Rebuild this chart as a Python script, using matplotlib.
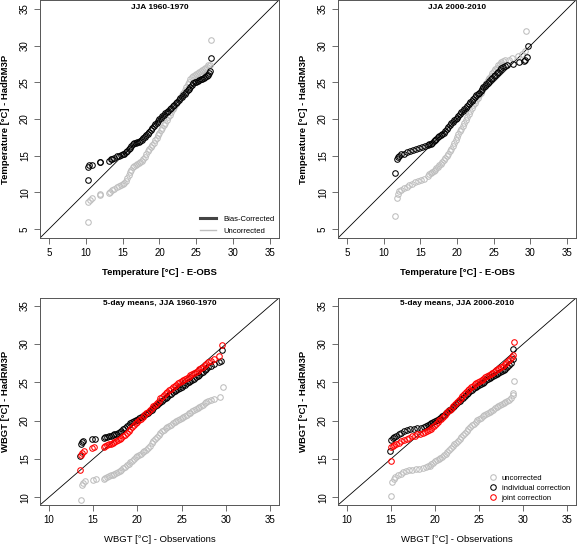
import matplotlib.pyplot as plt
from matplotlib.lines import Line2D

plt.rcParams['font.family'] = ['Liberation Sans', 'DejaVu Sans']

# top left: JJA 1960-1970, daily temperature
tl_bias = [(10.3, 11.7), (10.3, 13.5), (10.5, 13.7), (10.8, 13.8), (12.0, 14.1), (12.0, 14.2),
           (13.1, 14.3), (13.4, 14.5), (13.6, 14.6), (13.9, 14.7), (14.2, 14.9), (14.5, 15.0),
           (14.8, 15.1), (15.0, 15.2), (15.2, 15.3), (15.4, 15.5), (15.6, 15.7), (15.8, 15.9),
           (16.0, 16.1), (16.2, 16.3), (16.4, 16.6), (16.6, 16.7), (16.8, 16.8), (17.0, 16.85),
           (17.2, 16.9), (17.4, 17.0), (17.6, 17.2), (17.8, 17.4), (18.0, 17.6), (18.2, 17.8),
           (18.4, 18.0), (18.6, 18.25), (18.8, 18.5), (19.0, 18.8), (19.2, 19.05), (19.4, 19.3),
           (19.6, 19.5), (19.8, 19.75), (20.0, 19.95), (20.2, 20.15), (20.4, 20.35), (20.6, 20.55),
           (20.8, 20.75), (21.0, 20.95), (21.2, 21.15), (21.4, 21.35), (21.6, 21.55), (21.8, 21.75),
           (22.0, 21.95), (22.2, 22.15), (22.4, 22.35), (22.6, 22.6), (22.8, 22.8), (23.0, 23.0),
           (23.2, 23.25), (23.4, 23.45), (23.6, 23.7), (23.8, 23.9), (24.0, 24.1), (24.2, 24.35),
           (24.4, 24.6), (24.6, 24.85), (24.8, 25.0), (25.0, 25.1), (25.2, 25.2), (25.4, 25.3),
           (25.6, 25.4), (25.8, 25.5), (26.0, 25.6), (26.2, 25.7), (26.4, 25.85), (26.6, 26.0),
           (26.7, 26.2), (26.9, 26.6), (27.0, 28.3)]
tl_raw = [(10.3, 6.0), (10.3, 8.7), (10.6, 9.0), (10.9, 9.3), (12.0, 9.6), (12.0, 9.8),
          (13.1, 9.9), (13.3, 10.1), (13.6, 10.3), (13.9, 10.5), (14.2, 10.7), (14.5, 10.85),
          (14.8, 11.0), (15.0, 11.1), (15.2, 11.3), (15.4, 11.6), (15.6, 12.0), (15.8, 12.4),
          (16.0, 12.8), (16.2, 13.1), (16.4, 13.4), (16.6, 13.6), (16.8, 13.8), (17.0, 13.9),
          (17.2, 14.0), (17.4, 14.1), (17.6, 14.3), (17.8, 14.5), (18.0, 14.8), (18.2, 15.2),
          (18.4, 15.6), (18.6, 15.9), (18.8, 16.2), (19.0, 16.5), (19.2, 16.8), (19.4, 17.1),
          (19.6, 17.4), (19.8, 17.8), (20.0, 18.1), (20.2, 18.5), (20.4, 18.8), (20.6, 19.2),
          (20.8, 19.5), (21.0, 19.9), (21.2, 20.3), (21.4, 20.6), (21.6, 21.0), (21.8, 21.3),
          (22.0, 21.6), (22.2, 22.0), (22.4, 22.3), (22.6, 22.6), (22.8, 22.9), (23.0, 23.2),
          (23.2, 23.5), (23.4, 23.9), (23.6, 24.3), (23.8, 24.7), (24.0, 25.1), (24.2, 25.4),
          (24.4, 25.7), (24.6, 25.9), (24.8, 26.0), (25.0, 26.1), (25.2, 26.2), (25.4, 26.4),
          (25.6, 26.6), (25.8, 26.7), (26.0, 26.8), (26.2, 26.9), (26.4, 27.1), (26.6, 27.3),
          (26.8, 27.4), (27.0, 30.7)]

# top right: JJA 2000-2010, daily temperature
tr_bias = [(11.5, 12.7), (11.8, 14.5), (11.9, 14.8), (12.1, 15.0), (12.4, 15.2), (12.8, 15.3),
           (13.2, 15.5), (13.6, 15.7), (14.0, 15.8), (14.4, 15.95), (14.8, 16.05), (15.2, 16.15),
           (15.6, 16.3), (16.0, 16.45), (16.2, 16.55), (16.4, 16.65), (16.6, 16.8), (16.8, 16.95),
           (17.0, 17.1), (17.2, 17.3), (17.4, 17.5), (17.6, 17.65), (17.8, 17.8), (18.0, 17.95),
           (18.2, 18.15), (18.4, 18.4), (18.6, 18.65), (18.8, 18.9), (19.0, 19.15), (19.2, 19.4),
           (19.4, 19.6), (19.6, 19.8), (19.8, 20.0), (20.0, 20.2), (20.2, 20.45), (20.4, 20.7),
           (20.6, 20.9), (20.8, 21.1), (21.0, 21.35), (21.2, 21.55), (21.4, 21.8), (21.6, 22.0),
           (21.8, 22.25), (22.0, 22.5), (22.2, 22.7), (22.4, 22.95), (22.6, 23.2), (22.8, 23.4),
           (23.0, 23.6), (23.2, 23.85), (23.4, 24.05), (23.6, 24.3), (23.8, 24.5), (24.0, 24.75),
           (24.2, 24.95), (24.4, 25.15), (24.6, 25.4), (24.8, 25.6), (25.0, 25.8), (25.2, 26.0),
           (25.4, 26.25), (25.6, 26.45), (25.8, 26.7), (26.0, 26.9), (26.2, 27.1), (26.5, 27.2),
           (26.8, 27.3), (27.6, 27.45), (28.5, 27.7), (29.1, 27.9), (29.3, 28.1), (29.5, 28.4),
           (29.6, 30.0)]
tr_raw = [(11.6, 6.8), (11.8, 9.3), (11.9, 9.8), (12.1, 10.2), (12.4, 10.4), (12.8, 10.6),
          (13.2, 10.8), (13.5, 11.0), (13.9, 11.2), (14.3, 11.4), (14.7, 11.55), (15.1, 11.7),
          (15.5, 11.8), (16.0, 12.3), (16.2, 12.45), (16.4, 12.6), (16.6, 12.8), (16.8, 12.95),
          (17.0, 13.1), (17.2, 13.3), (17.4, 13.5), (17.6, 13.7), (17.8, 13.9), (18.0, 14.15),
          (18.2, 14.4), (18.4, 14.7), (18.6, 15.0), (18.8, 15.3), (19.0, 15.6), (19.2, 15.95),
          (19.4, 16.3), (19.6, 16.7), (19.8, 17.1), (20.0, 17.5), (20.2, 17.9), (20.4, 18.3),
          (20.6, 18.7), (20.8, 19.1), (21.0, 19.5), (21.2, 19.9), (21.4, 20.3), (21.6, 20.7),
          (21.8, 21.1), (22.0, 21.5), (22.2, 21.85), (22.4, 22.2), (22.6, 22.55), (22.8, 22.9),
          (23.0, 23.2), (23.2, 23.55), (23.4, 23.9), (23.6, 24.3), (23.8, 24.6), (24.0, 24.95),
          (24.2, 25.3), (24.4, 25.6), (24.6, 25.9), (24.8, 26.2), (25.0, 26.5), (25.2, 26.75),
          (25.4, 27.0), (25.6, 27.3), (25.8, 27.55), (26.0, 27.75), (26.2, 27.9), (26.6, 28.0),
          (27.1, 28.1), (27.5, 28.3), (28.3, 28.55), (28.9, 28.8), (29.3, 29.2), (29.45, 31.95)]

# bottom left: 5-day mean WBGT, JJA 1960-1970
bl_raw = [(13.6, 9.7), (13.7, 11.6), (13.9, 11.9), (14.1, 12.1), (15.0, 12.25), (15.3, 12.35),
          (16.2, 12.45), (16.4, 12.55), (16.6, 12.65), (16.8, 12.75), (17.0, 12.85), (17.2, 12.95),
          (17.4, 13.05), (17.6, 13.15), (17.8, 13.3), (18.0, 13.45), (18.2, 13.6), (18.4, 13.8),
          (18.6, 14.0), (18.8, 14.2), (19.0, 14.4), (19.2, 14.6), (19.4, 14.8), (19.6, 15.0),
          (19.8, 15.2), (20.0, 15.35), (20.2, 15.5), (20.4, 15.7), (20.6, 15.85), (20.8, 16.0),
          (21.0, 16.2), (21.2, 16.45), (21.4, 16.75), (21.6, 17.05), (21.8, 17.35), (22.0, 17.65),
          (22.2, 17.9), (22.4, 18.15), (22.6, 18.4), (22.8, 18.6), (23.0, 18.8), (23.2, 19.0),
          (23.4, 19.2), (23.6, 19.35), (23.8, 19.5), (24.0, 19.65), (24.2, 19.8), (24.4, 19.95),
          (24.6, 20.1), (24.8, 20.25), (25.0, 20.4), (25.2, 20.5), (25.4, 20.65), (25.6, 20.8),
          (25.8, 20.95), (26.0, 21.05), (26.2, 21.2), (26.4, 21.35), (26.6, 21.5), (26.8, 21.65),
          (27.0, 21.8), (27.2, 21.95), (27.4, 22.1), (27.6, 22.25), (27.8, 22.4), (28.0, 22.55),
          (28.3, 22.7), (28.7, 22.85), (29.3, 23.1), (29.7, 24.4)]
bl_indiv = [(13.5, 15.4), (13.6, 16.9), (13.8, 17.2), (13.9, 17.4), (14.9, 17.6), (15.2, 17.65),
            (16.2, 17.75), (16.4, 17.85), (16.6, 17.9), (16.8, 17.95), (17.0, 18.0), (17.2, 18.1),
            (17.4, 18.2), (17.6, 18.3), (17.8, 18.4), (18.0, 18.55), (18.2, 18.7), (18.4, 18.9),
            (18.6, 19.1), (18.8, 19.3), (19.0, 19.5), (19.2, 19.65), (19.4, 19.8), (19.6, 19.95),
            (19.8, 20.05), (20.0, 20.15), (20.2, 20.3), (20.4, 20.45), (20.6, 20.55), (20.8, 20.7),
            (21.0, 20.9), (21.2, 21.05), (21.4, 21.25), (21.6, 21.45), (21.8, 21.65), (22.0, 21.85),
            (22.2, 22.05), (22.4, 22.25), (22.6, 22.4), (22.8, 22.6), (23.0, 22.8), (23.2, 22.95),
            (23.4, 23.15), (23.6, 23.35), (23.8, 23.5), (24.0, 23.7), (24.2, 23.85), (24.4, 24.0),
            (24.6, 24.15), (24.8, 24.3), (25.0, 24.45), (25.2, 24.6), (25.4, 24.7), (25.6, 24.85),
            (25.8, 25.0), (26.0, 25.15), (26.2, 25.3), (26.4, 25.45), (26.6, 25.65), (26.8, 25.8),
            (27.0, 26.0), (27.2, 26.2), (27.4, 26.35), (27.6, 26.55), (27.8, 26.75), (28.0, 26.95),
            (28.3, 27.15), (28.7, 27.35), (29.2, 27.6), (29.4, 27.75), (29.6, 29.2)]
bl_joint = [(13.5, 13.6), (13.6, 15.5), (13.8, 15.8), (14.0, 16.0), (14.9, 16.4), (15.1, 16.5),
            (16.2, 16.6), (16.4, 16.7), (16.6, 16.8), (16.8, 16.9), (17.0, 17.0), (17.2, 17.1),
            (17.4, 17.2), (17.6, 17.35), (17.8, 17.5), (18.0, 17.65), (18.2, 17.8), (18.4, 17.95),
            (18.6, 18.15), (18.8, 18.4), (19.0, 18.65), (19.2, 18.9), (19.4, 19.15), (19.6, 19.4),
            (19.8, 19.65), (20.0, 19.85), (20.2, 20.05), (20.4, 20.25), (20.6, 20.45), (20.8, 20.7),
            (21.0, 20.95), (21.2, 21.15), (21.4, 21.4), (21.6, 21.65), (21.8, 21.85), (22.0, 22.1),
            (22.2, 22.35), (22.4, 22.6), (22.6, 22.9), (22.8, 23.1), (23.0, 23.35), (23.2, 23.55),
            (23.4, 23.75), (23.6, 23.95), (23.8, 24.15), (24.0, 24.35), (24.2, 24.5), (24.4, 24.65),
            (24.6, 24.85), (24.8, 25.0), (25.0, 25.15), (25.2, 25.3), (25.4, 25.45), (25.6, 25.6),
            (25.8, 25.75), (26.0, 25.9), (26.2, 26.05), (26.4, 26.2), (26.6, 26.35), (26.8, 26.5),
            (27.0, 26.7), (27.2, 26.85), (27.4, 27.05), (27.6, 27.2), (27.8, 27.4), (28.0, 27.6),
            (28.3, 27.8), (28.7, 28.1), (29.2, 28.4), (29.6, 29.9)]

# bottom right: 5-day mean WBGT, JJA 2000-2010
br_raw = [(15.0, 10.2), (15.1, 12.0), (15.3, 12.35), (15.5, 12.6), (15.8, 12.85), (16.1, 13.1),
          (16.4, 13.3), (16.7, 13.45), (17.0, 13.55), (17.4, 13.6), (17.8, 13.65), (18.2, 13.7),
          (18.6, 13.8), (19.0, 13.95), (19.2, 14.05), (19.4, 14.15), (19.6, 14.3), (19.8, 14.5),
          (20.0, 14.7), (20.2, 14.85), (20.4, 15.0), (20.6, 15.15), (20.8, 15.3), (21.0, 15.5),
          (21.2, 15.7), (21.4, 15.9), (21.6, 16.15), (21.8, 16.4), (22.0, 16.65), (22.2, 16.9),
          (22.4, 17.15), (22.6, 17.4), (22.8, 17.65), (23.0, 17.9), (23.2, 18.15), (23.4, 18.4),
          (23.6, 18.65), (23.8, 18.9), (24.0, 19.15), (24.2, 19.4), (24.4, 19.6), (24.6, 19.85),
          (24.8, 20.05), (25.0, 20.25), (25.2, 20.4), (25.4, 20.55), (25.6, 20.7), (25.8, 20.85),
          (26.0, 21.0), (26.2, 21.15), (26.4, 21.3), (26.6, 21.45), (26.8, 21.6), (27.0, 21.75),
          (27.2, 21.85), (27.4, 22.0), (27.6, 22.15), (27.8, 22.3), (28.0, 22.45), (28.2, 22.6),
          (28.4, 22.75), (28.6, 22.95), (28.8, 23.3), (28.9, 23.6), (29.0, 25.2)]
br_indiv = [(14.9, 16.1), (15.05, 17.5), (15.2, 17.7), (15.4, 17.9), (15.6, 18.0), (15.9, 18.2),
            (16.2, 18.4), (16.5, 18.6), (16.8, 18.75), (17.2, 18.85), (17.6, 18.9), (18.0, 19.0),
            (18.4, 19.05), (18.8, 19.15), (19.0, 19.25), (19.2, 19.4), (19.4, 19.55), (19.6, 19.7),
            (19.8, 19.85), (20.0, 20.0), (20.2, 20.1), (20.4, 20.25), (20.6, 20.4), (20.8, 20.6),
            (21.0, 20.8), (21.2, 21.0), (21.4, 21.15), (21.6, 21.35), (21.8, 21.55), (22.0, 21.75),
            (22.2, 21.95), (22.4, 22.15), (22.6, 22.4), (22.8, 22.6), (23.0, 22.8), (23.2, 23.0),
            (23.4, 23.25), (23.6, 23.45), (23.8, 23.65), (24.0, 23.85), (24.2, 24.0), (24.4, 24.2),
            (24.6, 24.35), (24.8, 24.5), (25.0, 24.65), (25.2, 24.8), (25.4, 24.95), (25.6, 25.1),
            (25.8, 25.25), (26.0, 25.4), (26.2, 25.55), (26.4, 25.7), (26.6, 25.85), (26.8, 25.95),
            (27.0, 26.1), (27.2, 26.2), (27.4, 26.3), (27.6, 26.45), (27.8, 26.6), (28.0, 26.75),
            (28.2, 26.95), (28.4, 27.2), (28.6, 27.5), (28.8, 28.0), (28.9, 29.4)]
br_joint = [(15.0, 14.7), (15.05, 16.5), (15.2, 16.7), (15.4, 16.85), (15.6, 17.0), (15.9, 17.15),
            (16.2, 17.3), (16.5, 17.5), (16.8, 17.65), (17.1, 17.8), (17.4, 17.95), (17.7, 18.05),
            (18.0, 18.2), (18.3, 18.3), (18.6, 18.4), (18.9, 18.5), (19.1, 18.65), (19.3, 18.8),
            (19.5, 18.95), (19.7, 19.15), (19.9, 19.35), (20.1, 19.6), (20.3, 19.85), (20.5, 20.05),
            (20.7, 20.25), (20.9, 20.45), (21.1, 20.7), (21.3, 20.95), (21.5, 21.2), (21.7, 21.45),
            (21.9, 21.7), (22.1, 21.95), (22.3, 22.2), (22.5, 22.45), (22.7, 22.7), (22.9, 22.95),
            (23.1, 23.2), (23.3, 23.45), (23.5, 23.7), (23.7, 23.95), (23.9, 24.15), (24.1, 24.35),
            (24.3, 24.55), (24.5, 24.75), (24.7, 24.9), (24.9, 25.05), (25.1, 25.2), (25.3, 25.35),
            (25.5, 25.5), (25.7, 25.65), (25.9, 25.8), (26.1, 25.95), (26.3, 26.1), (26.5, 26.25),
            (26.7, 26.4), (26.9, 26.55), (27.1, 26.7), (27.3, 26.85), (27.5, 27.0), (27.7, 27.15),
            (27.9, 27.35), (28.1, 27.55), (28.3, 27.8), (28.5, 28.05), (28.7, 28.35), (28.8, 28.6),
            (29.0, 30.2)]

top_ticks = [5, 10, 15, 20, 25, 30, 35]
bottom_ticks = [10, 15, 20, 25, 30, 35]
top_lim = (3.8, 36.2)
bottom_lim = (9.0, 36.0)

GREY = '#bebebe'
fig = plt.figure(figsize=(5.77, 5.45), dpi=100)


def make_axes(rect, lim, ticks, title, xlabel, ylabel, xbold, title_y):
    ax = fig.add_axes(rect)
    ax.set_xlim(lim)
    ax.set_ylim(lim)
    ax.set_xticks(ticks)
    ax.set_yticks(ticks)
    ax.tick_params(length=4.3, width=0.6, color='#555555', pad=3, labelsize=7)
    ax.tick_params(axis='y', labelrotation=90)
    for lab in ax.get_yticklabels():
        lab.set_va('center')
    for s in ax.spines.values():
        s.set_linewidth(0.7)
        s.set_color('#555555')
    ax.axline((0, 0), (1, 1), color='black', lw=0.6, zorder=1)
    ax.text(0.5, title_y, title, transform=ax.transAxes, ha='center', va='center',
            fontsize=6, fontweight='bold')
    ax.set_xlabel(xlabel, fontsize=6.8, fontweight='bold' if xbold else 'normal', labelpad=7)
    ax.set_ylabel(ylabel, fontsize=6.8, fontweight='bold', labelpad=7)
    return ax


def qq(ax, pairs, color):
    xs = [p[0] for p in pairs]
    ys = [p[1] for p in pairs]
    ax.plot(xs, ys, 'o', ms=4, mfc='none', mec=color, mew=0.75, zorder=3)


ax1 = make_axes([0.0693, 0.5633, 0.4142, 0.4367], top_lim, top_ticks, 'JJA 1960-1970',
                'Temperature [°C] - E-OBS', 'Temperature [°C] - HadRM3P', True, 0.968)
qq(ax1, tl_raw, GREY)
qq(ax1, tl_bias, 'black')
ax1.legend([Line2D([], [], color='#444444', lw=2.2), Line2D([], [], color=GREY, lw=1)],
           ['Bias-Corrected', 'Uncorrected'], loc='upper left', bbox_to_anchor=(0.655, 0.11),
           frameon=False, fontsize=5.5, borderpad=0, handlelength=2.0, handletextpad=1.0,
           labelspacing=0.55)

ax2 = make_axes([0.5858, 0.5633, 0.4125, 0.4367], top_lim, top_ticks, 'JJA 2000-2010',
                'Temperature [°C] - E-OBS', 'Temperature [°C] - HadRM3P', True, 0.968)
qq(ax2, tr_raw, GREY)
qq(ax2, tr_bias, 'black')

ax3 = make_axes([0.0693, 0.0734, 0.4142, 0.3798], bottom_lim, bottom_ticks,
                '5-day means, JJA 1960-1970', 'WBGT [°C] - Observations',
                'WBGT [°C] - HadRM3P', False, 0.974)
qq(ax3, bl_raw, GREY)
qq(ax3, bl_indiv, 'black')
qq(ax3, bl_joint, 'red')

ax4 = make_axes([0.5858, 0.0734, 0.4125, 0.3798], bottom_lim, bottom_ticks,
                '5-day means, JJA 2000-2010', 'WBGT [°C] - Observations',
                'WBGT [°C] - HadRM3P', False, 0.974)
qq(ax4, br_raw, GREY)
qq(ax4, br_indiv, 'black')
qq(ax4, br_joint, 'red')
handles = [Line2D([], [], ls='none', marker='o', ms=4, mfc='none', mec=c, mew=0.75)
           for c in (GREY, 'black', 'red')]
ax4.legend(handles, ['uncorrected', 'individual correction', 'joint correction'],
           loc='upper left', bbox_to_anchor=(0.62, 0.165), frameon=False, fontsize=5.5,
           borderpad=0, handlelength=1.0, handletextpad=0.6, labelspacing=0.35)

fig.savefig('out.png', dpi=100)
